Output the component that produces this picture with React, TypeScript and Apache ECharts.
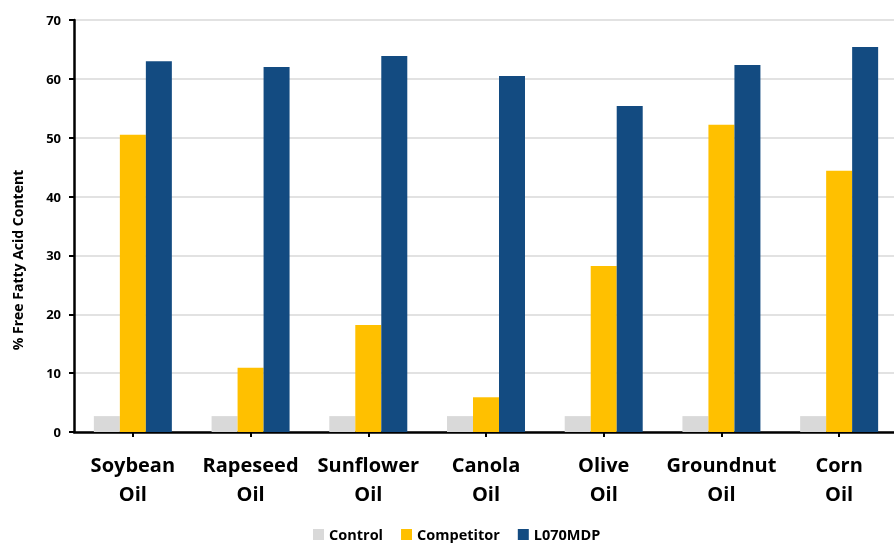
import React, { useEffect, useRef } from "react";
import * as echarts from "echarts";

const categories = ["Soybean\nOil", "Rapeseed\nOil", "Sunflower\nOil", "Canola\nOil", "Olive\nOil", "Groundnut\nOil", "Corn\nOil"];
const control = [2.7, 2.7, 2.7, 2.7, 2.7, 2.7, 2.7];
const competitor = [50.5, 10.9, 18.2, 5.9, 28.2, 52.2, 44.4];
const l070mdp = [63.0, 62.0, 63.9, 60.5, 55.4, 62.35, 65.4];
const seriesNames = ["Control", "Competitor", "L070MDP"];
const yTitle = "% Free Fatty Acid Content";

const FONT = "'Open Sans', sans-serif";

export default function App() {
  const ref = useRef<HTMLDivElement>(null);
  useEffect(() => {
    if (!ref.current) return;
    const chart = echarts.init(ref.current, undefined, { renderer: "svg" });
    const colors = ["#d9d9d9", "#ffc000", "#134b81"];
    const datas = [control, competitor, l070mdp];
    chart.setOption({
      animation: false,
      grid: { left: 74, right: 0, top: 20, bottom: 111, containLabel: false },
      legend: {
        bottom: -4,
        left: 308,
        itemWidth: 11,
        itemHeight: 11,
        itemGap: 18,
        icon: "rect",
        textStyle: { fontFamily: FONT, fontWeight: "bold", fontSize: 14.5, color: "#000" },
        data: seriesNames,
      },
      graphic: [
        {
          type: "text",
          x: 17,
          y: 260,
          rotation: Math.PI / 2,
          style: {
            text: yTitle,
            fontFamily: FONT,
            fontWeight: "bold",
            fontSize: 14,
            fill: "#000",
            textAlign: "center",
            textVerticalAlign: "middle",
          },
        },
      ],
      xAxis: {
        type: "category",
        data: categories,
        axisLine: { lineStyle: { color: "#000", width: 2.5 } },
        axisTick: { show: true, alignWithLabel: true, length: 5, lineStyle: { color: "#000", width: 2 } },
        axisLabel: {
          fontFamily: FONT,
          fontWeight: "bold",
          fontSize: 20,
          color: "#000",
          lineHeight: 29,
          margin: 18,
          interval: 0,
        },
      },
      yAxis: {
        type: "value",
        min: 0,
        max: 70,
        interval: 10,
        axisLine: { show: true, lineStyle: { color: "#000", width: 2.5 } },
        axisTick: { show: true, length: 5, lineStyle: { color: "#000", width: 2 } },
        axisLabel: { fontFamily: FONT, fontWeight: "bold", fontSize: 13, color: "#000", margin: 13 },
        splitLine: { show: true, lineStyle: { color: "#d9d9d9", width: 1.5 } },
      },
      series: seriesNames.map((n, i) => ({
        name: n,
        type: "bar",
        data: datas[i],
        barWidth: 26,
        barGap: "0%",
        itemStyle: { color: colors[i] },
      })),
    });
    return () => chart.dispose();
  }, []);
  return <div ref={ref} style={{ position: "fixed", left: 0, top: 0, width: 898, height: 543 }} />;
}
